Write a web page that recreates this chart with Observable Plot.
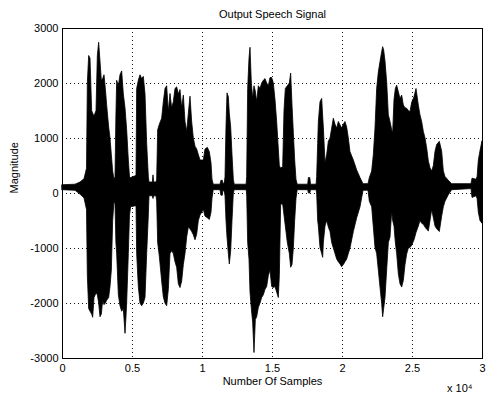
<!DOCTYPE html>
<html>
<head>
<meta charset="utf-8">
<script src="https://cdn.jsdelivr.net/npm/d3@7"></script>
<script src="https://cdn.jsdelivr.net/npm/@observablehq/plot@0.6"></script>
<style>
  html, body { margin: 0; padding: 0; background: #fff; }
  #chart svg { display: block; }
</style>
</head>
<body>
<div id="chart"></div>
<script>
const titleText = "Output Speech Signal";
const xLabelText = "Number Of Samples";
const yLabelText = "Magnitude";
const xExponentText = "x 10\u2074";

const xTicks = [0, 5000, 10000, 15000, 20000, 25000, 30000];
const xTickLabels = ["0", "0.5", "1", "1.5", "2", "2.5", "3"];
const yTicks = [-3000, -2000, -1000, 0, 1000, 2000, 3000];
const yTickLabels = ["-3000", "-2000", "-1000", "0", "1000", "2000", "3000"];

// sample index, upper envelope, lower envelope of the speech waveform
const samples = [0,929,1286,1571,1750,1810,1905,2000,2119,2190,2286,2429,2524,2619,2714,2810,2905,3000,3095,3190,3333,3429,3524,3619,3714,3786,3850,3905,4024,4143,4262,4381,4500,4560,4619,4738,4820,4900,5286,5333,5452,5571,5690,5810,5929,6048,6167,6214,6450,6500,6550,6714,6762,6833,6952,7119,7238,7357,7476,7595,7714,7833,7952,8071,8190,8310,8429,8548,8667,8786,8905,9024,9143,9262,9381,9500,9619,9738,9857,10095,10214,10381,10524,10643,10714,10800,11286,11350,11450,11500,11600,11643,11714,11786,11881,11952,12048,12143,12238,12300,13150,13190,13262,13357,13429,13524,13619,13714,13810,13905,14024,14143,14262,14381,14500,14619,14738,14857,14976,15095,15214,15333,15452,15524,15619,15762,15857,15952,16095,16238,16333,16429,16524,16619,16714,16800,17550,17600,17700,17750,18150,18190,18262,18310,18429,18548,18619,18667,18786,18905,19024,19143,19262,19381,19500,19619,19738,19857,19976,20095,20214,20333,20452,20571,20810,21048,21286,21500,21857,21952,22119,22238,22357,22476,22595,22714,22833,22905,22976,23071,23190,23310,23429,23548,23619,23714,23810,23905,24024,24143,24262,24381,24500,24619,24738,24857,24976,25143,25286,25452,25571,25690,25810,25929,26048,26167,26286,26405,26524,26643,26762,26952,27119,27238,27357,27595,27833,29214,29286,29571,29650,29738,29857,30000];
const upperEnv = [150,160,200,260,450,2000,2500,2450,1500,1450,1400,1500,2500,2740,2400,2050,2080,2150,1900,1600,1200,1000,700,400,250,300,1400,2050,1950,2150,2220,1800,1550,1350,1150,600,300,280,320,1900,2050,2150,2080,2120,1800,900,300,200,200,330,200,200,250,1150,1250,1360,1660,1900,1950,1480,1810,1550,1660,1900,1930,1800,1880,1550,1780,1300,1120,1450,1760,1300,1000,850,800,700,600,600,800,830,750,550,250,160,160,230,230,160,200,300,1200,1820,1750,1450,1200,700,250,160,160,300,1900,2450,2650,2000,1720,1950,1850,1660,1950,1900,2000,2050,2080,2000,1950,2100,2100,2000,1700,1300,800,500,450,480,1500,1900,1950,2000,2180,1600,1100,600,250,160,160,280,280,160,160,300,900,1300,1660,1720,1400,1200,550,700,940,1000,1180,1360,1250,1180,1300,1240,1180,1250,1300,1200,1000,750,600,420,280,170,170,280,400,700,1180,1900,2200,2390,2570,2660,2600,2400,2020,1420,1300,1150,1100,1700,1900,1960,1840,1720,1780,1600,1550,1540,1500,1480,1650,1750,1900,1600,1420,1300,1120,1000,820,580,460,400,500,760,880,940,760,400,300,230,170,170,270,250,300,600,770,950];
const lowerEnv = [60,50,-20,-90,-300,-1500,-2100,-2150,-2200,-2260,-1900,-1820,-1850,-2000,-2250,-2200,-1950,-2030,-2000,-1950,-1900,-1700,-1400,-500,-150,-200,-900,-1100,-1850,-2050,-2150,-2100,-2550,-2300,-2000,-1100,-400,-250,-230,-1100,-1700,-2000,-2050,-2000,-1900,-1100,-400,-50,-50,-100,-50,-50,-150,-900,-1150,-1600,-1890,-2000,-2050,-1750,-1100,-1050,-1100,-1250,-1350,-1650,-1720,-1600,-1300,-1100,-800,-620,-650,-700,-760,-850,-750,-500,-400,-300,-420,-450,-480,-350,-100,60,60,-40,-40,60,20,-50,-500,-800,-1100,-1290,-1050,-500,0,60,60,0,-900,-1200,-1800,-2100,-2350,-2900,-2300,-2250,-2080,-2000,-1900,-1850,-1750,-1700,-1500,-1400,-1700,-1720,-1700,-1800,-1900,-1500,-200,-200,-400,-600,-900,-1100,-1350,-1300,-1000,-500,-100,60,60,0,0,60,60,0,-500,-600,-990,-1100,-1170,-900,-600,-500,-620,-700,-900,-1000,-1100,-1200,-1250,-1290,-1340,-1300,-1250,-1200,-1100,-1000,-700,-450,-250,50,50,-150,-250,-620,-990,-1100,-1400,-1710,-2010,-2250,-2100,-1900,-1400,-900,-800,-330,-500,-600,-900,-1100,-1470,-1650,-1710,-1590,-1300,-1110,-1000,-990,-950,-850,-720,-600,-500,-550,-570,-620,-660,-690,-500,-300,-450,-600,-650,-700,-420,-250,-150,-30,60,80,-80,-50,-100,-350,-500,-550];

const rows = samples.map((s, i) => ({s, hi: upperEnv[i], lo: lowerEnv[i]}));
const fontFamily = "'Liberation Sans', Arial, Helvetica, sans-serif";

const chart = Plot.plot({
  width: 486,
  height: 399,
  marginLeft: 62,
  marginRight: 4,
  marginTop: 28,
  marginBottom: 41,
  style: {fontFamily, fontSize: "11px", color: "#000", background: "#fff"},
  x: {domain: [0, 30000]},
  y: {domain: [-3000, 3000]},
  marks: [
    Plot.gridX(xTicks, {stroke: "#000", strokeOpacity: 0.9, strokeDasharray: "1,3"}),
    Plot.gridY(yTicks, {stroke: "#000", strokeOpacity: 0.9, strokeDasharray: "1,3"}),
    Plot.areaY(rows, {x: "s", y1: "lo", y2: "hi", fill: "#000", stroke: "#000", strokeWidth: 0.8}),
    Plot.frame({stroke: "#000", strokeWidth: 1}),
    Plot.axisX(xTicks, {tickSize: 0, tickPadding: 6, tickFormat: (d, i) => xTickLabels[xTicks.indexOf(d)], label: null, fontSize: 11}),
    Plot.axisY(yTicks, {tickSize: 0, tickPadding: 4, tickFormat: (d) => yTickLabels[yTicks.indexOf(d)], label: null, fontSize: 11}),
    Plot.text([titleText], {frameAnchor: "top", dy: -18, fontSize: 11}),
    Plot.text([xLabelText], {frameAnchor: "bottom", dy: 26, fontSize: 11}),
    Plot.text([yLabelText], {frameAnchor: "left", dx: -48, rotate: -90, fontSize: 11}),
    Plot.text([xExponentText], {frameAnchor: "bottom-right", dx: -10, dy: 33, fontSize: 11})
  ]
});
document.getElementById("chart").appendChild(chart);
</script>
</body>
</html>
